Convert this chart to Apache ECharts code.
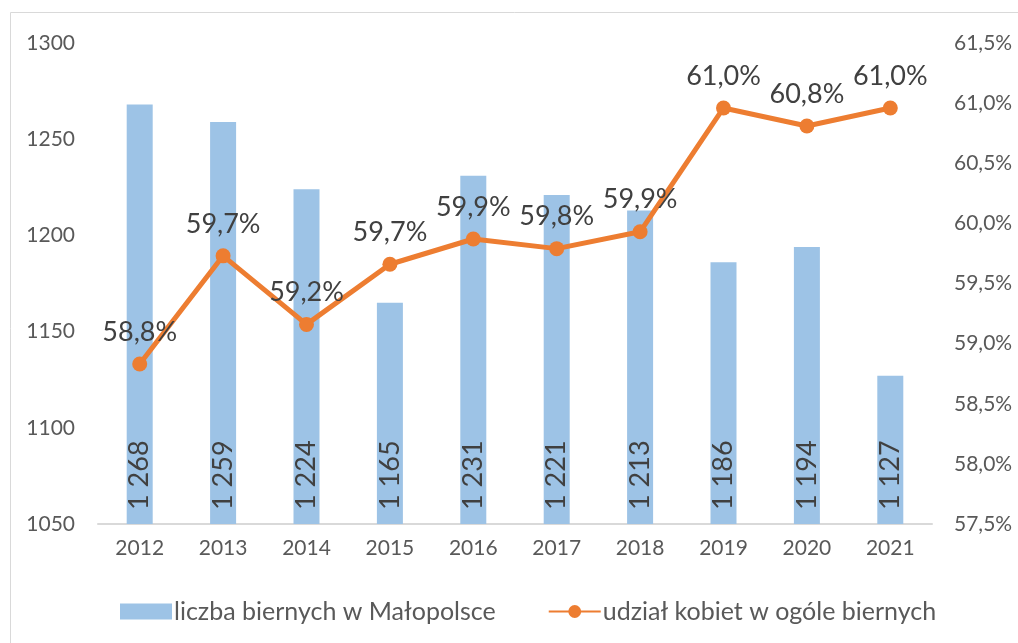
<!DOCTYPE html>
<html>
<head>
<meta charset="utf-8">
<script src="https://cdn.jsdelivr.net/npm/echarts@6/dist/echarts.min.js"></script>
<style>
html,body{margin:0;padding:0;background:#fff;}
#chart{width:1018px;height:643px;}
</style>
</head>
<body>
<div id="chart"></div>
<script>
var years=['2012','2013','2014','2015','2016','2017','2018','2019','2020','2021'];
var biernych=[1268,1259,1224,1165,1231,1221,1213,1186,1194,1127];
var udzial=[58.83,59.73,59.16,59.66,59.87,59.79,59.93,60.96,60.81,60.96];
var udzialLabels=['58,8%','59,7%','59,2%','59,7%','59,9%','59,8%','59,9%','61,0%','60,8%','61,0%'];

var font='Lato';
var myChart=echarts.init(document.getElementById('chart'));
myChart.setOption({
    textStyle:{fontFamily:font},
    graphic:[{
        type:'rect',
        shape:{x:10.5,y:12.5,width:1040,height:700},
        style:{fill:'none',stroke:'#d9d9d9',lineWidth:1},
        silent:true,z:-1
    }],
    grid:{left:98,right:86,top:43,bottom:119},
    legend:{
        top:594,
        left:115,
        itemGap:52,
        itemWidth:52,
        itemHeight:16,
        textStyle:{fontSize:25,color:'#595959',fontFamily:font,padding:[0,0,0,-3]},
        data:[
            {name:'liczba biernych w Małopolsce',icon:'rect'},
            {name:'udział kobiet w ogóle biernych'}
        ]
    },
    xAxis:{
        type:'category',
        data:years,
        axisLine:{lineStyle:{color:'#d9d9d9',width:2}},
        axisTick:{show:false},
        axisLabel:{fontSize:21,color:'#595959',margin:14,fontFamily:font}
    },
    yAxis:[{
        type:'value',
        min:1050,max:1300,interval:50,
        splitLine:{show:false},
        axisLine:{show:false},
        axisTick:{show:false},
        axisLabel:{fontSize:21,color:'#595959',margin:23,fontFamily:font,
            formatter:function(v){return String(v);}}
    },{
        type:'value',
        min:57.5,max:61.5,interval:0.5,
        splitLine:{show:false},
        axisLine:{show:false},
        axisTick:{show:false},
        axisLabel:{fontSize:21,color:'#595959',margin:22,fontFamily:font,
            formatter:function(v){return v.toFixed(1).replace('.',',')+'%';}}
    }],
    series:[{
        name:'liczba biernych w Małopolsce',
        type:'bar',
        data:biernych,
        barWidth:26,
        itemStyle:{color:'#9dc3e6'},
        label:{
            show:true,
            position:'insideBottom',
            rotate:90,
            align:'left',
            verticalAlign:'middle',
            distance:14,
            fontSize:27,
            color:'#404040',
            fontFamily:font,
            formatter:function(p){
                var s=String(p.value);
                return s.slice(0,s.length-3)+' '+s.slice(-3);
            }
        }
    },{
        name:'udział kobiet w ogóle biernych',
        type:'line',
        yAxisIndex:1,
        data:udzial,
        symbol:'circle',
        symbolSize:15,
        lineStyle:{color:'#ed7d31',width:5},
        itemStyle:{color:'#ed7d31'},
        label:{
            show:true,
            position:'top',
            distance:11,
            fontSize:27,
            color:'#404040',
            fontFamily:font,
            formatter:function(p){return udzialLabels[p.dataIndex];}
        }
    }]
});
</script>
</body>
</html>
